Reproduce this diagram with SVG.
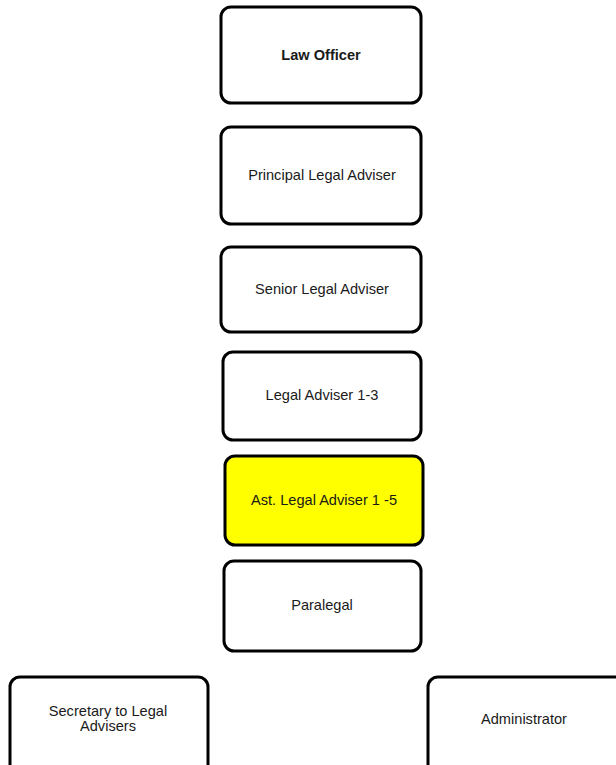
<svg xmlns="http://www.w3.org/2000/svg" width="616" height="765" viewBox="0 0 616 765">
<style>
.box{fill:#ffffff;stroke:#000000;stroke-width:3}
.hl{fill:#ffff00}
.t{font-family:"Liberation Sans",Arial,sans-serif;font-size:14.6px;fill:#1a1a1a;text-anchor:middle}
</style>
<rect width="616" height="765" fill="#ffffff"/>
<g id="connectors"></g>
<g id="law-officer"><rect class="box" x="221" y="7" width="200" height="96" rx="10"/><text class="t" x="321" y="60" font-weight="bold">Law Officer</text></g>
<g id="principal"><rect class="box" x="221" y="127" width="200" height="97" rx="10"/><text class="t" x="322" y="180">Principal Legal Adviser</text></g>
<g id="senior"><rect class="box" x="221" y="247" width="200" height="85" rx="10"/><text class="t" x="322" y="294">Senior Legal Adviser</text></g>
<g id="legal-adviser"><rect class="box" x="223" y="352" width="198" height="88" rx="10"/><text class="t" x="322" y="400">Legal Adviser 1-3</text></g>
<g id="ast-legal-adviser"><rect class="box hl" x="225" y="456" width="198" height="89" rx="10"/><text class="t" x="324" y="505">Ast. Legal Adviser 1 -5</text></g>
<g id="paralegal"><rect class="box" x="224" y="561" width="197" height="90" rx="10"/><text class="t" x="322" y="610">Paralegal</text></g>
<g id="secretary"><rect class="box" x="10" y="677" width="198" height="100" rx="10"/><text class="t" x="108" y="716">Secretary to Legal</text><text class="t" x="108" y="731">Advisers</text></g>
<g id="administrator"><rect class="box" x="428" y="677" width="200" height="100" rx="10"/><text class="t" x="524" y="724">Administrator</text></g>
</svg>
